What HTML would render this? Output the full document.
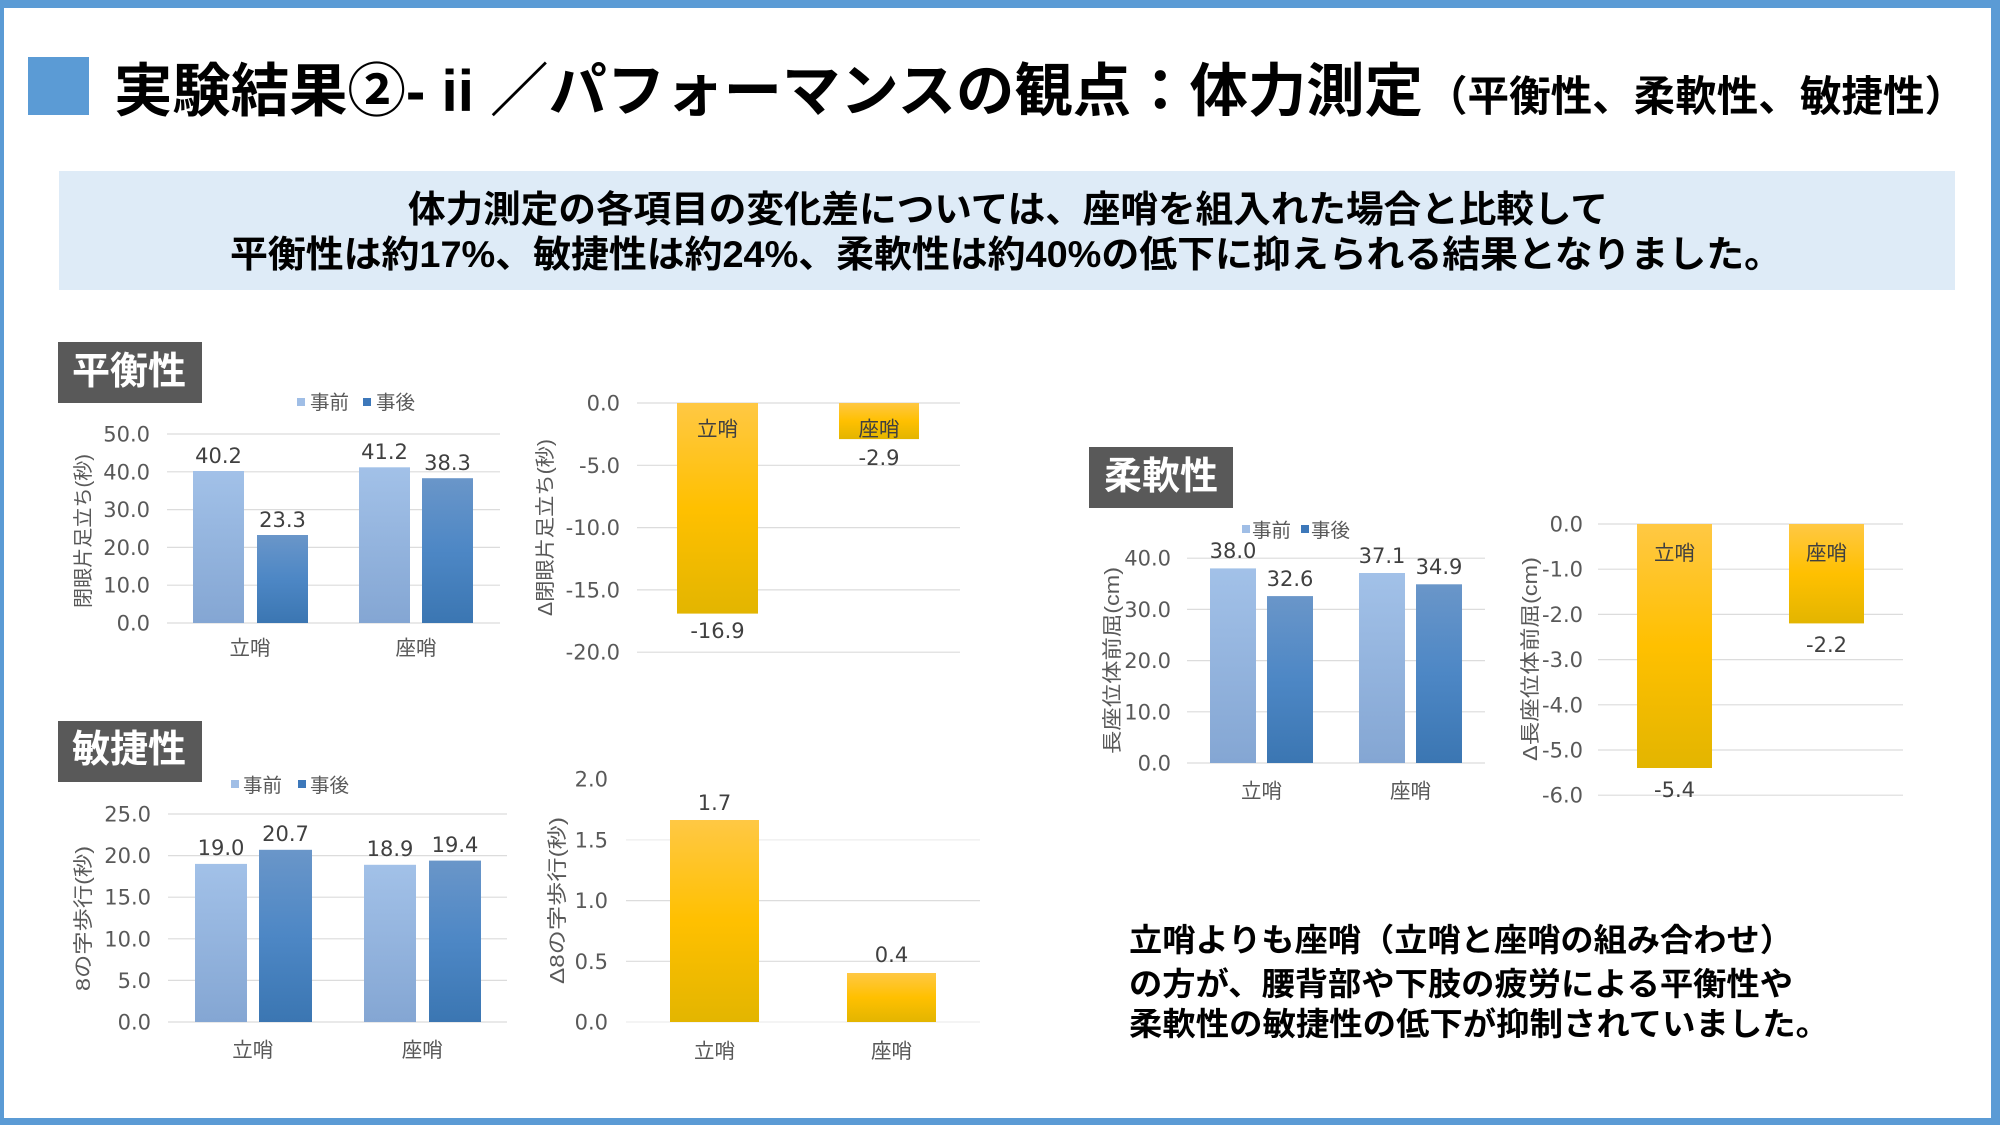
<!DOCTYPE html>
<html><head><meta charset="utf-8"><style>
html,body{margin:0;padding:0;background:#fff;}
svg{display:block;}
.tk{font-family:"DejaVu Sans","Liberation Sans",sans-serif;font-size:21px;fill:#595959;}
.dl{font-family:"DejaVu Sans","Liberation Sans",sans-serif;font-size:21px;fill:#404040;text-anchor:middle;}
.cat{font-family:"Liberation Sans","Noto Sans CJK JP",sans-serif;font-size:20.5px;fill:#595959;text-anchor:middle;}
.inl{font-family:"Liberation Sans","Noto Sans CJK JP",sans-serif;font-size:20.5px;fill:#404040;text-anchor:middle;}
.lg{font-family:"Liberation Sans","Noto Sans CJK JP",sans-serif;font-size:19.5px;fill:#595959;}
.yt{font-family:"Liberation Sans","Noto Sans CJK JP",sans-serif;font-size:20px;fill:#595959;text-anchor:middle;}
.gl{stroke:#DCDCDC;stroke-width:1.2;}
.lab{font-family:"Liberation Sans","Noto Sans CJK JP",sans-serif;font-size:38px;font-weight:bold;fill:#fff;text-anchor:middle;}
.bk{font-family:"Liberation Sans","Noto Sans CJK JP",sans-serif;font-weight:bold;fill:#000;}
</style></head><body>
<svg width="2000" height="1125" viewBox="0 0 2000 1125" xmlns="http://www.w3.org/2000/svg">
<defs>
<linearGradient id="gL" x1="0" y1="0" x2="0" y2="1"><stop offset="0" stop-color="#A2C1E8"/><stop offset="1" stop-color="#84A6D3"/></linearGradient>
<linearGradient id="gD" x1="0" y1="0" x2="0" y2="1"><stop offset="0" stop-color="#6A96C9"/><stop offset="0.5" stop-color="#4D87C5"/><stop offset="1" stop-color="#3B76B2"/></linearGradient>
<linearGradient id="gG" x1="0" y1="0" x2="0" y2="1"><stop offset="0" stop-color="#FFC844"/><stop offset="0.5" stop-color="#FFC000"/><stop offset="1" stop-color="#E3B500"/></linearGradient>
</defs>
<rect x="0" y="0" width="2000" height="1125" fill="#fff"/>
<!-- frame -->
<rect x="0" y="0" width="2000" height="8" fill="#5B9BD5"/>
<rect x="0" y="0" width="4" height="1125" fill="#5B9BD5"/>
<rect x="1991" y="0" width="9" height="1125" fill="#5B9BD5"/>
<rect x="0" y="1118" width="2000" height="7" fill="#5B9BD5"/>

<!-- title -->
<rect x="28" y="57" width="61" height="58" fill="#5B9BD5"/>
<text class="bk" x="114" y="111" font-size="58" textLength="1309" lengthAdjust="spacingAndGlyphs">実験結果②- ii ／パフォーマンスの観点：体力測定</text>
<text class="bk" x="1426" y="111" font-size="42" textLength="540" lengthAdjust="spacingAndGlyphs">（平衡性、柔軟性、敏捷性）</text>

<!-- summary box -->
<rect x="59" y="171" width="1896" height="119" fill="#DEEBF7"/>
<text class="bk" x="408" y="222" font-size="37" textLength="1200" lengthAdjust="spacingAndGlyphs">体力測定の各項目の変化差については、座哨を組入れた場合と比較して</text>
<text class="bk" x="230" y="267" font-size="37" textLength="1552" lengthAdjust="spacingAndGlyphs">平衡性は約17%、敏捷性は約24%、柔軟性は約40%の低下に抑えられる結果となりました。</text>

<!-- ===== Chart 1: 平衡性 ===== -->
<rect x="58" y="342" width="144" height="61" fill="#595959"/>
<text class="lab" x="129" y="384">平衡性</text>
<rect x="297" y="398" width="8" height="8" fill="#A0BEE6"/>
<text class="lg" x="310" y="409">事前</text>
<rect x="363" y="398" width="8" height="8" fill="#3D78BA"/>
<text class="lg" x="376" y="409">事後</text>
<g class="gl">
<line x1="167" x2="500" y1="623" y2="623"/><line x1="167" x2="500" y1="585.2" y2="585.2"/><line x1="167" x2="500" y1="547.4" y2="547.4"/><line x1="167" x2="500" y1="509.6" y2="509.6"/><line x1="167" x2="500" y1="471.8" y2="471.8"/><line x1="167" x2="500" y1="434" y2="434"/>
</g>
<g class="tk" text-anchor="end">
<text x="150" y="630.5">0.0</text><text x="150" y="592.7">10.0</text><text x="150" y="554.9">20.0</text><text x="150" y="517.1">30.0</text><text x="150" y="479.3">40.0</text><text x="150" y="441.5">50.0</text>
</g>
<rect x="193" y="471" width="51" height="152" fill="url(#gL)"/>
<rect x="257" y="535" width="51" height="88" fill="url(#gD)"/>
<rect x="359" y="467.3" width="51" height="155.7" fill="url(#gL)"/>
<rect x="422" y="478.2" width="51" height="144.8" fill="url(#gD)"/>
<text class="dl" x="218.5" y="463">40.2</text>
<text class="dl" x="282.5" y="527">23.3</text>
<text class="dl" x="384.5" y="459">41.2</text>
<text class="dl" x="447.5" y="470">38.3</text>
<text class="cat" x="250" y="655">立哨</text>
<text class="cat" x="416" y="655">座哨</text>
<text class="yt" transform="translate(90,531) rotate(-90)" textLength="154" lengthAdjust="spacingAndGlyphs">閉眼片足立ち(秒)</text>

<!-- ===== Chart 2: Δ平衡性 ===== -->
<g class="gl">
<line x1="637" x2="960" y1="403" y2="403"/><line x1="637" x2="960" y1="465.3" y2="465.3"/><line x1="637" x2="960" y1="527.6" y2="527.6"/><line x1="637" x2="960" y1="589.9" y2="589.9"/><line x1="637" x2="960" y1="652.2" y2="652.2"/>
</g>
<g class="tk" text-anchor="end">
<text x="620" y="410.5">0.0</text><text x="620" y="472.8">-5.0</text><text x="620" y="535.1">-10.0</text><text x="620" y="597.4">-15.0</text><text x="620" y="659.7">-20.0</text>
</g>
<rect x="677" y="403" width="81" height="210.6" fill="url(#gG)"/>
<rect x="839" y="403" width="80" height="36.1" fill="url(#gG)"/>
<text class="inl" x="717.5" y="436">立哨</text>
<text class="inl" x="879" y="436">座哨</text>
<text class="dl" x="717.5" y="638">-16.9</text>
<text class="dl" x="879" y="465">-2.9</text>
<text class="yt" transform="translate(552,527.5) rotate(-90)" textLength="177" lengthAdjust="spacingAndGlyphs">Δ閉眼片足立ち(秒)</text>

<!-- ===== Chart 3: 敏捷性 ===== -->
<rect x="58" y="721" width="144" height="61" fill="#595959"/>
<text class="lab" x="129" y="762">敏捷性</text>
<rect x="231" y="780" width="8" height="8" fill="#A0BEE6"/>
<text class="lg" x="243" y="792">事前</text>
<rect x="298" y="780" width="8" height="8" fill="#3D78BA"/>
<text class="lg" x="310" y="792">事後</text>
<g class="gl">
<line x1="168" x2="507" y1="1022" y2="1022"/><line x1="168" x2="507" y1="980.4" y2="980.4"/><line x1="168" x2="507" y1="938.8" y2="938.8"/><line x1="168" x2="507" y1="897.2" y2="897.2"/><line x1="168" x2="507" y1="855.6" y2="855.6"/><line x1="168" x2="507" y1="814" y2="814"/>
</g>
<g class="tk" text-anchor="end">
<text x="151" y="1029.5">0.0</text><text x="151" y="987.9">5.0</text><text x="151" y="946.3">10.0</text><text x="151" y="904.7">15.0</text><text x="151" y="863.1">20.0</text><text x="151" y="821.5">25.0</text>
</g>
<rect x="195" y="863.9" width="52" height="158.1" fill="url(#gL)"/>
<rect x="259" y="849.8" width="53" height="172.2" fill="url(#gD)"/>
<rect x="364" y="864.8" width="52" height="157.2" fill="url(#gL)"/>
<rect x="429" y="860.6" width="52" height="161.4" fill="url(#gD)"/>
<text class="dl" x="221" y="855">19.0</text>
<text class="dl" x="285.5" y="841">20.7</text>
<text class="dl" x="390" y="856">18.9</text>
<text class="dl" x="455" y="852">19.4</text>
<text class="cat" x="252.75" y="1057">立哨</text>
<text class="cat" x="422.25" y="1057">座哨</text>
<text class="yt" transform="translate(90,918.5) rotate(-90)" textLength="145" lengthAdjust="spacingAndGlyphs">8の字歩行(秒)</text>

<!-- ===== Chart 4: Δ敏捷性 ===== -->
<g class="gl">
<line x1="626" x2="980" y1="1022" y2="1022" stroke="#EDEDED"/><line x1="626" x2="980" y1="961.3" y2="961.3"/><line x1="626" x2="980" y1="900.6" y2="900.6"/><line x1="626" x2="980" y1="839.9" y2="839.9" stroke="#EDEDED"/>
</g>
<g class="tk" text-anchor="end">
<text x="608" y="1029.5">0.0</text><text x="608" y="968.8">0.5</text><text x="608" y="908.1">1.0</text><text x="608" y="847.4">1.5</text><text x="608" y="786.7">2.0</text>
</g>
<rect x="670" y="820" width="89" height="202" fill="url(#gG)"/>
<rect x="847" y="973" width="89" height="49" fill="url(#gG)"/>
<text class="dl" x="714.5" y="810">1.7</text>
<text class="dl" x="891.5" y="962">0.4</text>
<text class="cat" x="714.5" y="1058">立哨</text>
<text class="cat" x="891.5" y="1058">座哨</text>
<text class="yt" transform="translate(564,900.5) rotate(-90)" textLength="167" lengthAdjust="spacingAndGlyphs">Δ8の字歩行(秒)</text>

<!-- ===== Chart 5: 柔軟性 ===== -->
<rect x="1089" y="447" width="144" height="61" fill="#595959"/>
<text class="lab" x="1161" y="489">柔軟性</text>
<rect x="1242" y="525" width="8" height="8" fill="#A0BEE6"/>
<text class="lg" x="1252" y="537">事前</text>
<rect x="1301" y="525" width="8" height="8" fill="#3D78BA"/>
<text class="lg" x="1311" y="537">事後</text>
<g class="gl">
<line x1="1187" x2="1485" y1="763" y2="763"/><line x1="1187" x2="1485" y1="711.8" y2="711.8"/><line x1="1187" x2="1485" y1="660.6" y2="660.6"/><line x1="1187" x2="1485" y1="609.4" y2="609.4"/><line x1="1187" x2="1485" y1="558.2" y2="558.2"/>
</g>
<g class="tk" text-anchor="end">
<text x="1171" y="770.5">0.0</text><text x="1171" y="719.3">10.0</text><text x="1171" y="668.1">20.0</text><text x="1171" y="616.9">30.0</text><text x="1171" y="565.7">40.0</text>
</g>
<rect x="1210" y="568.4" width="46" height="194.6" fill="url(#gL)"/>
<rect x="1267" y="596.1" width="46" height="166.9" fill="url(#gD)"/>
<rect x="1359" y="573" width="46" height="190" fill="url(#gL)"/>
<rect x="1416" y="584.3" width="46" height="178.7" fill="url(#gD)"/>
<text class="dl" x="1233" y="558">38.0</text>
<text class="dl" x="1290" y="586">32.6</text>
<text class="dl" x="1382" y="563">37.1</text>
<text class="dl" x="1439" y="574">34.9</text>
<text class="cat" x="1261.5" y="798">立哨</text>
<text class="cat" x="1410.5" y="798">座哨</text>
<text class="yt" transform="translate(1119,660.5) rotate(-90)" textLength="187" lengthAdjust="spacingAndGlyphs">長座位体前屈(cm)</text>

<!-- ===== Chart 6: Δ柔軟性 ===== -->
<g class="gl">
<line x1="1598" x2="1903" y1="524" y2="524"/><line x1="1598" x2="1903" y1="569.2" y2="569.2"/><line x1="1598" x2="1903" y1="614.4" y2="614.4"/><line x1="1598" x2="1903" y1="659.6" y2="659.6"/><line x1="1598" x2="1903" y1="704.8" y2="704.8"/><line x1="1598" x2="1903" y1="750" y2="750"/><line x1="1598" x2="1903" y1="795.2" y2="795.2"/>
</g>
<g class="tk" text-anchor="end">
<text x="1583" y="531.5">0.0</text><text x="1583" y="576.7">-1.0</text><text x="1583" y="621.9">-2.0</text><text x="1583" y="667.1">-3.0</text><text x="1583" y="712.3">-4.0</text><text x="1583" y="757.5">-5.0</text><text x="1583" y="802.7">-6.0</text>
</g>
<rect x="1637" y="524" width="75" height="244" fill="url(#gG)"/>
<rect x="1789" y="524" width="75" height="99.4" fill="url(#gG)"/>
<text class="inl" x="1674.5" y="560">立哨</text>
<text class="inl" x="1826.5" y="560">座哨</text>
<text class="dl" x="1826.5" y="652">-2.2</text>
<text class="dl" x="1674.5" y="797">-5.4</text>
<text class="yt" transform="translate(1537,659) rotate(-90)" textLength="204" lengthAdjust="spacingAndGlyphs">Δ長座位体前屈(cm)</text>

<!-- bottom text -->
<text class="bk" x="1129" y="951" font-size="32" textLength="664" lengthAdjust="spacingAndGlyphs">立哨よりも座哨（立哨と座哨の組み合わせ）</text>
<text class="bk" x="1129" y="995" font-size="32" textLength="664" lengthAdjust="spacingAndGlyphs">の方が、腰背部や下肢の疲労による平衡性や</text>
<text class="bk" x="1129" y="1035" font-size="32" textLength="700" lengthAdjust="spacingAndGlyphs">柔軟性の敏捷性の低下が抑制されていました。</text>
</svg>
</body></html>
